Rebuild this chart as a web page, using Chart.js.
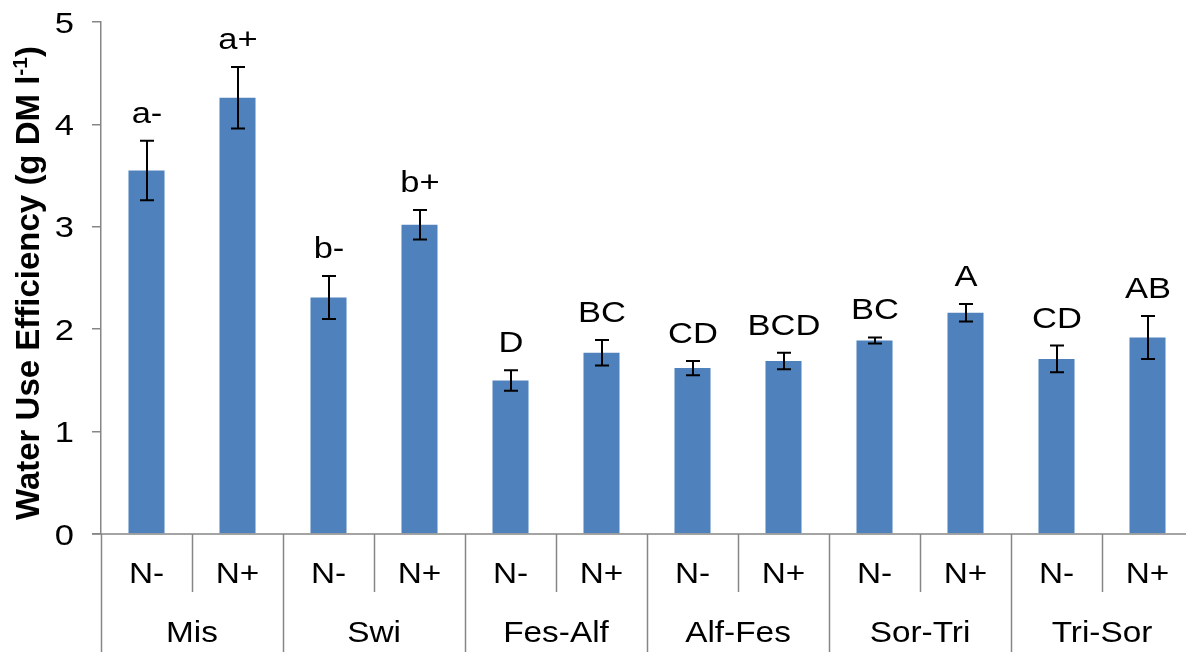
<!DOCTYPE html>
<html>
<head>
<meta charset="utf-8">
<title>Water Use Efficiency</title>
<script src="https://cdn.jsdelivr.net/npm/chart.js@4.4.0/dist/chart.umd.min.js"></script>
<style>
    html, body {
        margin: 0;
        padding: 0;
        background: #ffffff;
        overflow: hidden;
    }
    #wueChart {
        display: block;
    }
</style>
</head>
<body>
<canvas id="wueChart" width="1200" height="652"></canvas>
<script>
// Crops and nitrogen treatments
const crops = ['Mis', 'Swi', 'Fes-Alf', 'Alf-Fes', 'Sor-Tri', 'Tri-Sor'];
const treatments = ['N-', 'N+'];

// Mean WUE per bar (crop order, N- then N+), standard errors, significance letters
const wueMeans = [3.55, 4.26, 2.31, 3.02, 1.50, 1.77, 1.62, 1.69, 1.89, 2.16, 1.71, 1.92];
const wueErrors = [0.29, 0.30, 0.21, 0.145, 0.10, 0.125, 0.07, 0.08, 0.03, 0.085, 0.13, 0.21];
const sigLetters = ['a-', 'a+', 'b-', 'b+', 'D', 'BC', 'CD', 'BCD', 'BC', 'A', 'CD', 'AB'];

const yTicks = [0, 1, 2, 3, 4, 5];

const FONT = '"Liberation Sans", Arial, Helvetica, sans-serif';
const AXIS_GREY = '#868686';
const BAR_BLUE = '#4F81BD';
const TEXT_STRETCH = 1.15;   // the labels use a slightly wide face

document.addEventListener('DOMContentLoaded', function() {
    createWueChart();
});

function barLabels() {
    const labels = [];
    crops.forEach(crop => {
        treatments.forEach(t => labels.push(crop + ' ' + t));
    });
    return labels;
}

// fillText widened horizontally around its anchor
function wideText(ctx, text, x, y, size, align) {
    ctx.save();
    ctx.font = size + 'px ' + FONT;
    ctx.textAlign = align || 'center';
    ctx.textBaseline = 'alphabetic';
    ctx.translate(x, y);
    ctx.scale(TEXT_STRETCH, 1);
    ctx.fillText(text, 0, 0);
    ctx.restore();
}

// Error bars plus the letter above each one
const errorBarPlugin = {
    id: 'errorBars',
    afterDatasetsDraw(chart) {
        const ctx = chart.ctx;
        const yScale = chart.scales.y;
        const meta = chart.getDatasetMeta(0);

        ctx.save();
        ctx.strokeStyle = '#000000';
        ctx.lineWidth = 2;
        ctx.fillStyle = '#000000';

        meta.data.forEach((bar, i) => {
            const x = Math.round(bar.x);
            const top = yScale.getPixelForValue(wueMeans[i] + wueErrors[i]);
            const bottom = yScale.getPixelForValue(wueMeans[i] - wueErrors[i]);
            const cap = 7;

            ctx.beginPath();
            ctx.moveTo(x, top);
            ctx.lineTo(x, bottom);
            ctx.moveTo(x - cap, top);
            ctx.lineTo(x + cap, top);
            ctx.moveTo(x - cap, bottom);
            ctx.lineTo(x + cap, bottom);
            ctx.stroke();

            wideText(ctx, sigLetters[i], x, top - 18, 30);
        });
        ctx.restore();
    }
};

// Y tick numbers, right aligned left of the tick marks
const yLabelPlugin = {
    id: 'yLabels',
    afterDraw(chart) {
        const ctx = chart.ctx;
        const yScale = chart.scales.y;
        ctx.save();
        ctx.fillStyle = '#000000';
        yTicks.forEach(v => {
            const y = yScale.getPixelForValue(v);
            wideText(ctx, String(v), 74, y + 10.5, 30, 'right');
        });
        ctx.restore();
    }
};

// Two-level category axis (treatment row, crop row) drawn as a table
const categoryTablePlugin = {
    id: 'categoryTable',
    afterDraw(chart) {
        const ctx = chart.ctx;
        const area = chart.chartArea;
        const xScale = chart.scales.x;
        const y0 = chart.scales.y.getPixelForValue(0);
        const slot = (area.right - area.left) / (crops.length * treatments.length);
        const bottom = chart.height;

        ctx.save();
        ctx.strokeStyle = AXIS_GREY;
        ctx.lineWidth = 1.5;

        // baseline
        ctx.beginPath();
        ctx.moveTo(area.left - 9, y0);
        ctx.lineTo(chart.width, y0);
        ctx.stroke();

        // dividers: full height between crops, short between treatments
        for (let i = 0; i <= crops.length * treatments.length; i++) {
            const x = Math.round(area.left + i * slot) + 0.5;
            const major = i % treatments.length === 0;
            ctx.beginPath();
            ctx.moveTo(x, y0);
            ctx.lineTo(x, major ? bottom : 592);
            ctx.stroke();
        }

        ctx.fillStyle = '#000000';
        crops.forEach((crop, c) => {
            treatments.forEach((t, k) => {
                const idx = c * treatments.length + k;
                wideText(ctx, t, xScale.getPixelForValue(idx), 583, 29);
            });
            const groupCenter = area.left + (c + 0.5) * slot * treatments.length;
            wideText(ctx, crop, groupCenter, 642, 29);
        });
        ctx.restore();
    }
};

// Rotated y-axis title with the superscript unit
const yTitlePlugin = {
    id: 'yTitle',
    afterDraw(chart) {
        const ctx = chart.ctx;
        const main = 'Water Use Efficiency (g DM l';
        const sup = '-1';
        const tail = ')';

        ctx.save();
        ctx.fillStyle = '#000000';
        ctx.textBaseline = 'alphabetic';
        ctx.textAlign = 'left';

        ctx.font = 'bold 33px ' + FONT;
        const wMain = ctx.measureText(main).width;
        const wTail = ctx.measureText(tail).width;
        ctx.font = 'bold 21px ' + FONT;
        const wSup = ctx.measureText(sup).width;
        const total = wMain + wSup + wTail;

        ctx.translate(39, 283);
        ctx.rotate(-Math.PI / 2);
        let x = -total / 2;
        ctx.font = 'bold 33px ' + FONT;
        ctx.fillText(main, x, 0);
        x += wMain;
        ctx.font = 'bold 21px ' + FONT;
        ctx.fillText(sup, x, -12);
        x += wSup;
        ctx.font = 'bold 33px ' + FONT;
        ctx.fillText(tail, x, 0);
        ctx.restore();
    }
};

function createWueChart() {
    const ctx = document.getElementById('wueChart').getContext('2d');

    new Chart(ctx, {
        type: 'bar',
        data: {
            labels: barLabels(),
            datasets: [{
                label: 'WUE',
                data: wueMeans,
                backgroundColor: BAR_BLUE,
                borderWidth: 0,
                barPercentage: 0.396,
                categoryPercentage: 1.0
            }]
        },
        options: {
            responsive: false,
            animation: false,
            layout: {
                padding: { left: 0, top: 22, right: 7, bottom: 118 }
            },
            plugins: {
                legend: { display: false },
                tooltip: { enabled: false },
                title: { display: false }
            },
            scales: {
                x: {
                    type: 'category',
                    display: false,
                    offset: true
                },
                y: {
                    min: 0,
                    max: 5,
                    afterFit: function(scale) {
                        scale.width = 101;
                        scale.paddingTop = 0;
                        scale.paddingBottom = 0;
                    },
                    afterBuildTicks: function(scale) {
                        scale.ticks = yTicks.map(v => ({ value: v }));
                    },
                    ticks: {
                        display: false
                    },
                    grid: {
                        display: true,
                        drawOnChartArea: false,
                        drawTicks: true,
                        tickLength: 9,
                        color: AXIS_GREY,
                        lineWidth: 1.5
                    },
                    border: {
                        display: true,
                        color: AXIS_GREY,
                        width: 1.5
                    }
                }
            }
        },
        plugins: [errorBarPlugin, categoryTablePlugin, yLabelPlugin, yTitlePlugin]
    });
}
</script>
</body>
</html>
